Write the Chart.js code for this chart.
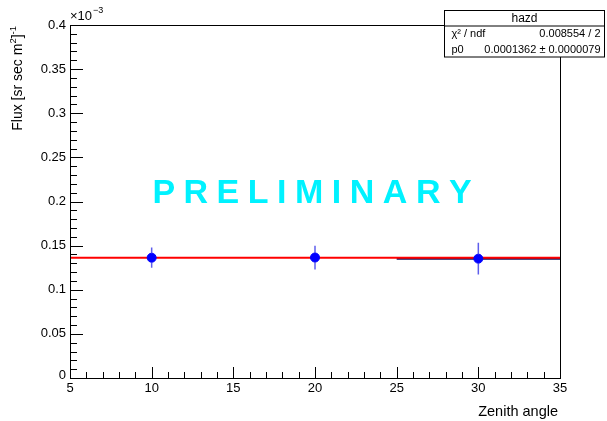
<!DOCTYPE html>
<html>
<head>
<meta charset="utf-8">
<script src="https://cdn.jsdelivr.net/npm/chart.js@4/dist/chart.umd.min.js"></script>
<style>
  html, body { margin: 0; padding: 0; background: #fff; }
  canvas { display: block; }
</style>
</head>
<body>
<canvas id="hazd" width="607" height="421"></canvas>
<script>
// 数据 (Flux 单位: 1e-3)
const zenith = [10, 20, 30];
const flux = [0.1363, 0.1365, 0.1352];
const fluxErr = [0.0115, 0.0135, 0.018];
// 拟合结果 p0
const fitP0 = 0.1362;
const fitRange = [5, 35];
// 直方图残留线段
const histRange = [25, 35];
const histLevel = 0.1352;
// 刻度
const xTicks = [5, 10, 15, 20, 25, 30, 35];
const yTicks = [0, 0.05, 0.1, 0.15, 0.2, 0.25, 0.3, 0.35, 0.4];
const yTickLabels = ["0", "0.05", "0.1", "0.15", "0.2", "0.25", "0.3", "0.35", "0.4"];
// 统计框
const statTitle = "hazd";
const statRows = [["χ² / ndf", "0.008554 / 2"], ["p0", "0.0001362 ± 0.0000079"]];

const FONT = "'Liberation Sans', Arial, sans-serif";

/**
 * 误差棒
 */
const errorBarPlugin = {
  id: 'errorBars',
  afterDatasetsDraw(chart) {
    const ctx = chart.ctx;
    const xs = chart.scales.x, ys = chart.scales.y;
    ctx.save();
    ctx.strokeStyle = 'rgba(40,40,230,0.75)';
    ctx.lineWidth = 1.5;
    zenith.forEach((z, i) => {
      const px = xs.getPixelForValue(z);
      const py = ys.getPixelForValue(flux[i]);
      const top = ys.getPixelForValue(flux[i] + fluxErr[i]);
      const bot = ys.getPixelForValue(flux[i] - fluxErr[i]);
      ctx.beginPath();
      ctx.moveTo(px, top); ctx.lineTo(px, py - 4.5);
      ctx.moveTo(px, py + 4.5); ctx.lineTo(px, bot);
      ctx.stroke();
    });
    ctx.restore();
  }
};

/**
 * 坐标框、刻度、文字
 */
const framePlugin = {
  id: 'rootFrame',
  afterDraw(chart) {
    const ctx = chart.ctx;
    const a = chart.chartArea;
    const xs = chart.scales.x, ys = chart.scales.y;
    ctx.save();
    // 框
    ctx.strokeStyle = '#000';
    ctx.lineWidth = 1;
    ctx.strokeRect(Math.round(a.left) + 0.5, Math.round(a.top) + 0.5,
      Math.round(a.right - a.left), Math.round(a.bottom - a.top));

    // X 轴刻度
    ctx.beginPath();
    for (let v = fitRange[0]; v <= fitRange[1]; v++) {
      const px = Math.round(xs.getPixelForValue(v)) + 0.5;
      const len = (v % 5 === 0) ? 11 : 6;
      ctx.moveTo(px, a.bottom);
      ctx.lineTo(px, a.bottom - len);
    }
    // Y 轴刻度
    for (let k = 0; k <= 40; k++) {
      const py = Math.round(ys.getPixelForValue(k * 0.01)) + 0.5;
      const len = (k % 5 === 0) ? 13 : 7;
      ctx.moveTo(a.left, py);
      ctx.lineTo(a.left + len, py);
    }
    ctx.stroke();

    // 刻度文字
    ctx.fillStyle = '#000';
    ctx.font = '13px ' + FONT;
    ctx.textAlign = 'center';
    ctx.textBaseline = 'top';
    xTicks.forEach(v => {
      ctx.fillText(String(v), xs.getPixelForValue(v), a.bottom + 4);
    });
    ctx.textAlign = 'right';
    ctx.textBaseline = 'middle';
    yTicks.forEach((v, i) => {
      const py = ys.getPixelForValue(v);
      ctx.fillText(yTickLabels[i], a.left - 4, i === 0 ? py - 3 : py);
    });

    // ×10^-3
    ctx.textAlign = 'left';
    ctx.textBaseline = 'alphabetic';
    ctx.fillText('×10', a.left, a.top - 5);
    const w = ctx.measureText('×10').width;
    ctx.font = '9px ' + FONT;
    ctx.fillText('−3', a.left + w + 1, a.top - 12);

    // X 轴标题
    ctx.font = '14.5px ' + FONT;
    ctx.textAlign = 'right';
    ctx.fillText('Zenith angle', a.right - 2, 416);

    // Y 轴标题 (旋转)
    ctx.save();
    ctx.translate(22, a.top + 1);
    ctx.rotate(-Math.PI / 2);
    const parts = [['Flux [sr sec m', 14, 0], ['2', 9.5, -6], [']', 14, 0], ['-1', 9.5, -6]];
    let total = 0;
    parts.forEach(p => { ctx.font = p[1] + 'px ' + FONT; total += ctx.measureText(p[0]).width; });
    let cx = -total;
    ctx.textAlign = 'left';
    parts.forEach(p => {
      ctx.font = p[1] + 'px ' + FONT;
      ctx.fillText(p[0], cx, p[2]);
      cx += ctx.measureText(p[0]).width;
    });
    ctx.restore();

    // PRELIMINARY
    ctx.font = 'bold 34px ' + FONT;
    ctx.fillStyle = '#00F2FF';
    ctx.textAlign = 'left';
    ctx.textBaseline = 'alphabetic';
    const word = 'PRELIMINARY';
    const spacing = 8.5;
    let ww = 0;
    for (const ch of word) ww += ctx.measureText(ch).width + spacing;
    ww -= spacing;
    let sx = 312 - ww / 2;
    for (const ch of word) {
      ctx.fillText(ch, sx, 203);
      sx += ctx.measureText(ch).width + spacing;
    }

    // 统计框
    const bx = 444.5, by = 10.5, bw = 160, rh = 15.5;
    ctx.fillStyle = '#fff';
    ctx.fillRect(bx, by, bw, rh * 3);
    ctx.strokeStyle = '#000';
    ctx.strokeRect(bx, by, bw, rh * 3);
    ctx.beginPath();
    ctx.moveTo(bx, by + rh); ctx.lineTo(bx + bw, by + rh);
    ctx.stroke();
    ctx.fillStyle = '#000';
    ctx.font = '12px ' + FONT;
    ctx.textAlign = 'center';
    ctx.textBaseline = 'middle';
    ctx.fillText(statTitle, bx + bw / 2, by + rh / 2 + 0.5);
    ctx.font = '11px ' + FONT;
    statRows.forEach((r, i) => {
      const yy = by + rh * (i + 1.5) + 0.5;
      ctx.textAlign = 'left';
      ctx.fillText(r[0], bx + 7, yy);
      ctx.textAlign = 'right';
      ctx.fillText(r[1], bx + bw - 4, yy);
    });
    ctx.restore();
  }
};

const ctxMain = document.getElementById('hazd').getContext('2d');
new Chart(ctxMain, {
  type: 'scatter',
  data: {
    datasets: [
      {
        label: 'data',
        data: zenith.map((z, i) => ({ x: z, y: flux[i] })),
        backgroundColor: '#0000FF',
        borderColor: '#0000FF',
        pointRadius: 4.5,
        pointHoverRadius: 4.5,
        order: 0
      },
      {
        type: 'line',
        label: 'fit',
        data: fitRange.map(x => ({ x: x, y: fitP0 })),
        borderColor: '#FF0000',
        borderWidth: 2,
        pointRadius: 0,
        order: 1
      },
      {
        type: 'line',
        label: 'hist',
        data: histRange.map(x => ({ x: x, y: histLevel })),
        borderColor: '#10105a',
        borderWidth: 2,
        pointRadius: 0,
        order: 2
      }
    ]
  },
  options: {
    responsive: false,
    animation: false,
    devicePixelRatio: 1,
    layout: { padding: { left: 70, top: 25, right: 47, bottom: 43 } },
    plugins: { legend: { display: false }, tooltip: { enabled: false } },
    scales: {
      x: { type: 'linear', min: 5, max: 35, display: false },
      y: { type: 'linear', min: 0, max: 0.4, display: false }
    }
  },
  plugins: [errorBarPlugin, framePlugin]
});
</script>
</body>
</html>
